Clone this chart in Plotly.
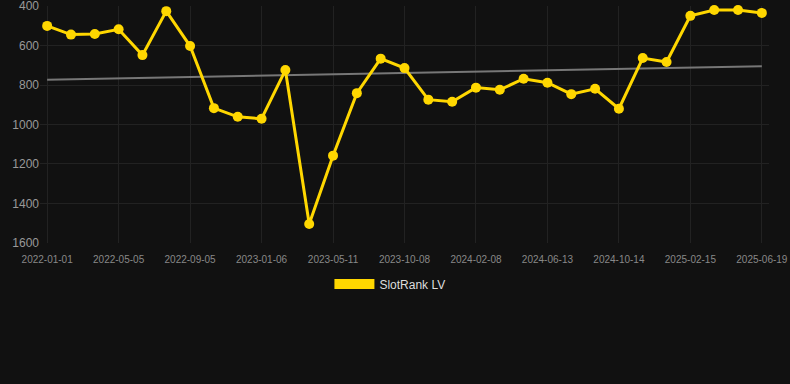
import plotly.graph_objects as go

dates = [
    "2022-01-01", "2022-02-11", "2022-03-24", "2022-05-05", "2022-06-15", "2022-07-26",
    "2022-09-05", "2022-10-16", "2022-11-26", "2023-01-06", "2023-02-18", "2023-03-31",
    "2023-05-11", "2023-06-30", "2023-08-19", "2023-10-08", "2023-11-20", "2023-12-30",
    "2024-02-08", "2024-03-20", "2024-05-02", "2024-06-13", "2024-07-25", "2024-09-03",
    "2024-10-14", "2024-11-24", "2025-01-05", "2025-02-15", "2025-03-30", "2025-05-10",
    "2025-06-19",
]
rank = [500, 544, 541, 517, 648, 425, 602, 917, 961, 971, 724, 1505, 1158, 841, 666,
        714, 874, 885, 813, 824, 768, 788, 846, 819, 920, 663, 683, 449, 419, 419, 434]
trend_start, trend_end = 773, 705
series_name = "SlotRank LV"
y_ticks = [400, 600, 800, 1000, 1200, 1400, 1600]

idx = list(range(len(dates)))
tick_idx = idx[::3]
tick_text = [dates[i] for i in tick_idx]

YELLOW = "#FFD700"
BG = "#111111"
GRID = "#222222"

fig = go.Figure()
fig.add_trace(go.Scatter(
    x=[idx[0], idx[-1]], y=[trend_start, trend_end], mode="lines",
    line=dict(color="#777777", width=2), showlegend=False, hoverinfo="skip"))
fig.add_trace(go.Scatter(
    x=idx, y=rank, mode="lines+markers", name=series_name,
    line=dict(color=YELLOW, width=3), marker=dict(color=YELLOW, size=10),
    showlegend=False, cliponaxis=False))
fig.add_trace(go.Scatter(
    x=[None], y=[None], mode="lines", name=series_name,
    line=dict(color=YELLOW, width=12), showlegend=True))

fig.update_layout(
    width=790, height=384, autosize=False,
    paper_bgcolor=BG, plot_bgcolor=BG,
    margin=dict(l=40, r=21, t=6, b=141, autoexpand=False),
    font=dict(family="Liberation Sans, Arial, sans-serif", color="#999999"),
    showlegend=True,
    legend=dict(orientation="h", x=0.48, xanchor="center",
                y=-0.112, yanchor="top",
                font=dict(size=12, color="#dddddd"), itemwidth=40,
                bgcolor="rgba(0,0,0,0)"),
    xaxis=dict(range=[-0.3, 30.3], tickmode="array", tickvals=tick_idx, ticktext=tick_text,
               tickfont=dict(size=10, color="#888888"), showgrid=True, gridcolor=GRID,
               zeroline=False, showline=False, ticks="outside", ticklen=7,
               tickcolor="rgba(0,0,0,0)", tickangle=0, automargin=False,
               ticklabeloverflow="allow"),
    yaxis=dict(range=[1601, 399], tickmode="array", tickvals=y_ticks,
               tickfont=dict(size=12, color="#999999"), showgrid=True, gridcolor=GRID,
               zeroline=False, showline=False, ticks="", automargin=False,
               ticklabeloverflow="allow"),
)
fig.write_html("out.html", config={"displayModeBar": False},
               post_script="document.body.style.margin='0';")
